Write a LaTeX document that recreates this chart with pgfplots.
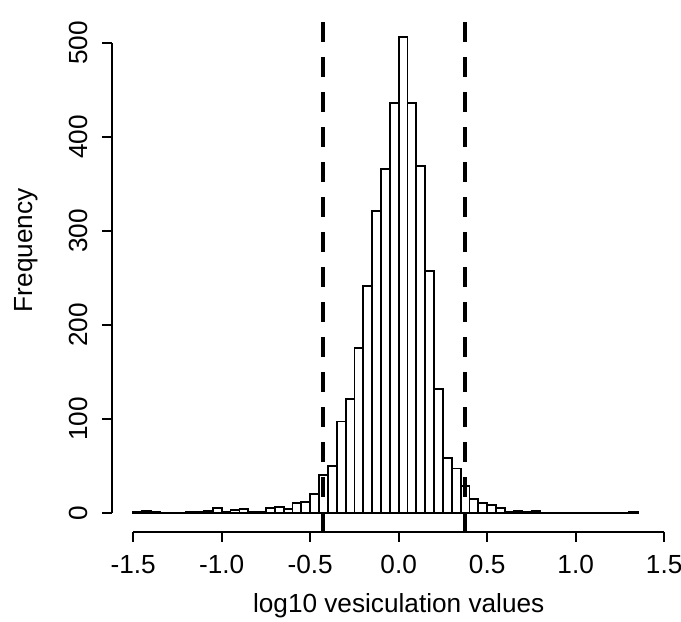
\documentclass[border=0pt]{standalone}
\usepackage{pgfplots}
\pgfplotsset{compat=1.18}
\usepackage{pgfplotstable}
\usepackage{fontspec}
\setmainfont{Liberation Sans}

% bin left edge, count (bins of 0.05); last row closes the final bin
\pgfplotstableread{
x y
-1.50 1
-1.45 2
-1.40 1
-1.35 0
-1.30 0
-1.25 0
-1.20 1
-1.15 1
-1.10 2
-1.05 5
-1.00 1
-0.95 3
-0.90 4
-0.85 1
-0.80 1
-0.75 5
-0.70 6
-0.65 4
-0.60 10
-0.55 11
-0.50 20
-0.45 40
-0.40 50
-0.35 97
-0.30 121
-0.25 175
-0.20 241
-0.15 321
-0.10 366
-0.05 436
0.00 506
0.05 436
0.10 369
0.15 257
0.20 132
0.25 58
0.30 47
0.35 28
0.40 15
0.45 10
0.50 8
0.55 5
0.60 1
0.65 2
0.70 1
0.75 2
0.80 0
0.85 0
0.90 0
0.95 0
1.00 0
1.05 0
1.10 0
1.15 0
1.20 0
1.25 0
1.30 1
1.35 0
}\histdata

\begin{document}
\begin{tikzpicture}[font=\fontsize{13.1}{15}\selectfont]
\begin{axis}[
    name=ax,
    scale only axis,
    width=286.7pt, height=256.9pt,
    xmin=-1.62, xmax=1.62, ymin=-20.2, ymax=526.4,
    axis x line*=bottom, axis y line*=left,
    x axis line style={draw=none}, y axis line style={draw=none},
    tick align=outside,
    major tick length=5pt,
    every tick/.style={black, line width=1pt},
    xtick={-1.5,-1,-0.5,0,0.5,1,1.5},
    xticklabels={-1.5,-1.0,-0.5,0.0,0.5,1.0,1.5},
    ytick={0,100,200,300,400,500},
    yticklabels={0,100,200,300,400,500},
    xticklabel style={anchor=north, inner sep=0pt, yshift=-6.5pt},
    yticklabel style={xshift=-7pt, rotate=90, anchor=base, inner sep=0pt},
    every axis x label/.style={at={(axis description cs:0.5,-0.1577)}, anchor=base},
    every axis y label/.style={at={(axis description cs:-0.1378,0.548)}, anchor=base, rotate=90},
    xlabel={log10 vesiculation values},
    ylabel={Frequency},
    clip=false,
]
\addplot[ybar interval, fill=white, draw=black, line width=0.9pt] table[x=x, y=y] {\histdata};
\addplot[black, line width=2pt, dash pattern=on 10pt off 7.5pt] coordinates {(-0.427,-20.2) (-0.427,526.4)};
\addplot[black, line width=2pt, dash pattern=on 10pt off 7.5pt] coordinates {(0.374,-20.2) (0.374,526.4)};
\draw[line width=1pt] (axis cs:-1.5,-20.2) -- (axis cs:1.5,-20.2);
\draw[line width=1pt] (axis cs:-1.62,0) -- (axis cs:-1.62,500);
\end{axis}
\pgfresetboundingbox
\path[use as bounding box] (ax.south west) ++(-56pt,-45.15pt) rectangle ++(340.5pt,311pt);
\end{tikzpicture}
\end{document}
